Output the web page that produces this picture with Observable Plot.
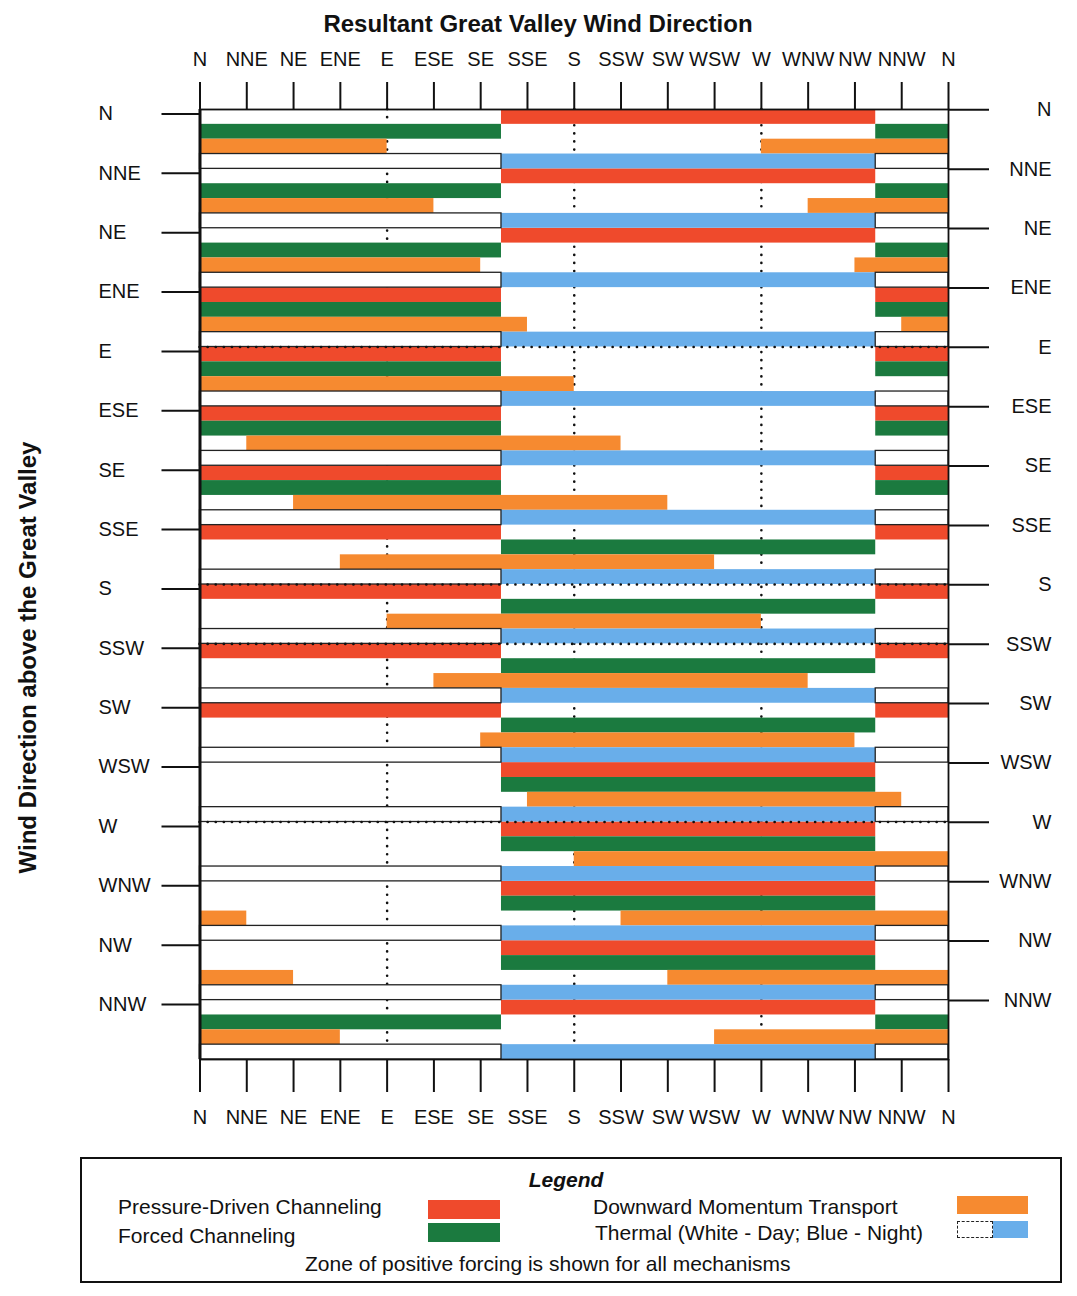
<!DOCTYPE html>
<html>
<head>
<meta charset="utf-8">
<script src="https://cdn.jsdelivr.net/npm/d3@7"></script>
<script src="https://cdn.jsdelivr.net/npm/@observablehq/plot@0.6"></script>
<style>
  body { margin: 0; background: #fff; font-family: "Liberation Sans", Arial, sans-serif; color: #111; }
  #page { position: relative; width: 1077px; height: 1296px; overflow: hidden; background: #fff; }
  #title { position: absolute; left: 0; width: 1076px; top: 10px; line-height: 28px; text-align: center; font-weight: bold; font-size: 24px; }
  #chart { position: absolute; left: 0; top: 40px; }
  #legendBox { position: absolute; left: 80px; top: 1157px; width: 982px; height: 126px; border: 2px solid #111; box-sizing: border-box; }
  .lt { position: absolute; font-size: 21px; white-space: nowrap; transform: translateY(-50%); line-height: 24px; }
  .sw { position: absolute; }
</style>
</head>
<body>
<div id="page">
  <div id="title">Resultant Great Valley Wind Direction</div>
  <div id="chart"></div>
  <div id="legendBox"></div>
  <div class="lt" style="left:0;width:1132px;text-align:center;top:1180px;font-weight:bold;font-style:italic;">Legend</div>
  <div class="lt" style="left:118px;top:1207px;">Pressure-Driven Channeling</div>
  <div class="lt" style="left:118px;top:1236px;">Forced Channeling</div>
  <div class="sw" id="swRed" style="left:428px;top:1200px;width:72px;height:19px;"></div>
  <div class="sw" id="swGreen" style="left:428px;top:1223px;width:72px;height:19px;"></div>
  <div class="lt" style="left:593px;top:1207px;">Downward Momentum Transport</div>
  <div class="lt" style="left:595px;top:1233px;">Thermal (White - Day; Blue - Night)</div>
  <div class="sw" id="swOrange" style="left:957px;top:1196px;width:71px;height:18px;"></div>
  <div class="sw" style="left:957px;top:1221px;width:36px;height:17px;border:1.5px dashed #222;box-sizing:border-box;background:#fff;"></div>
  <div class="sw" id="swBlue" style="left:993px;top:1221px;width:35px;height:17px;"></div>
  <div class="lt" style="left:305px;top:1264px;">Zone of positive forcing is shown for all mechanisms</div>
</div>
<script>
// Wind direction above the Great Valley (rows, top to bottom)
const aloftDirections = ["N","NNE","NE","ENE","E","ESE","SE","SSE","S","SSW","SW","WSW","W","WNW","NW","NNW"];
// Resultant Great Valley wind direction axis (degrees and labels)
const valleyTickDegrees = [0,22.5,45,67.5,90,112.5,135,157.5,180,202.5,225,247.5,270,292.5,315,337.5,360];
const valleyTickLabels = ["N","NNE","NE","ENE","E","ESE","SE","SSE","S","SSW","SW","WSW","W","WNW","NW","NNW","N"];

// Zones of positive forcing, [from, to] in degrees (clockwise, may wrap through N)
const pressureDriven = [[145,325],[145,325],[145,325],[325,145],[325,145],[325,145],[325,145],[325,145],
                        [325,145],[325,145],[325,145],[145,325],[145,325],[145,325],[145,325],[145,325]];
const forcedChanneling = [[325,145],[325,145],[325,145],[325,145],[325,145],[325,145],[325,145],[145,325],
                          [145,325],[145,325],[145,325],[145,325],[145,325],[145,325],[145,325],[325,145]];
const downwardMomentum = [[270,90],[292.5,112.5],[315,135],[337.5,157.5],[0,180],[22.5,202.5],[45,225],[67.5,247.5],
                          [90,270],[112.5,292.5],[135,315],[157.5,337.5],[180,360],[202.5,22.5],[225,45],[247.5,67.5]];
const thermalNight = [[145,325],[145,325],[145,325],[145,325],[145,325],[145,325],[145,325],[145,325],
                      [145,325],[145,325],[145,325],[145,325],[145,325],[145,325],[145,325],[145,325]];
const thermalDay = [[325,145],[325,145],[325,145],[325,145],[325,145],[325,145],[325,145],[325,145],
                    [325,145],[325,145],[325,145],[325,145],[325,145],[325,145],[325,145],[325,145]];

// Dotted reference lines
const dottedValleyDegrees = [90,180,270];
const dottedAloftRows = ["E","S","SSW","W"];

const colors = { red: "#ef4a2c", green: "#1b7a3f", orange: "#f68a30", blue: "#69aeea" };
document.getElementById("swRed").style.background = colors.red;
document.getElementById("swGreen").style.background = colors.green;
document.getElementById("swOrange").style.background = colors.orange;
document.getElementById("swBlue").style.background = colors.blue;

const BANDS = 4;
function segments(ranges, band) {
  const out = [];
  ranges.forEach(([a, b], i) => {
    const parts = a < b ? [[a, b]] : [[a, 360], [0, b]];
    for (const [p, q] of parts) {
      if (q > p) out.push({ x1: p, x2: q, y1: i * BANDS + band, y2: i * BANDS + band + 1 });
    }
  });
  return out;
}
const redSegs = segments(pressureDriven, 0);
const greenSegs = segments(forcedChanneling, 1);
const orangeSegs = segments(downwardMomentum, 2);
const nightSegs = segments(thermalNight, 3);
const daySegs = segments(thermalDay, 3);

const rowLabel = d => aloftDirections[Math.floor(d / BANDS + 1e-6)];
const leftTicks = aloftDirections.map((_, i) => i * BANDS + 0.3);
const rightTicks = aloftDirections.map((_, i) => i * BANDS + 0.02);
const dottedY = dottedAloftRows.map(r => aloftDirections.indexOf(r) * BANDS);
const xFmt = d => valleyTickLabels[Math.round(d / 22.5)];

const dotStyle = { stroke: "#111", strokeWidth: 2.6, strokeDasharray: "0.1 8", strokeLinecap: "round" };

const chart = Plot.plot({
  width: 1077,
  height: 1100,
  marginTop: 69,
  marginLeft: 199.5,
  marginRight: 129,
  marginBottom: 81,
  x: { domain: [0, 360] },
  y: { domain: [64, 0] },
  style: { fontFamily: "Liberation Sans, Arial, sans-serif", fontSize: "20px", color: "#111", background: "transparent" },
  marks: [
    Plot.ruleX(dottedValleyDegrees, dotStyle),
    Plot.rect(redSegs, { x1: "x1", x2: "x2", y1: "y1", y2: "y2", fill: colors.red }),
    Plot.rect(greenSegs, { x1: "x1", x2: "x2", y1: "y1", y2: "y2", fill: colors.green }),
    Plot.rect(orangeSegs, { x1: "x1", x2: "x2", y1: "y1", y2: "y2", fill: colors.orange }),
    Plot.rect(nightSegs, { x1: "x1", x2: "x2", y1: "y1", y2: "y2", fill: colors.blue }),
    Plot.rect(daySegs, { x1: "x1", x2: "x2", y1: "y1", y2: "y2", fill: "white", stroke: "#222", strokeWidth: 1.3 }),
    Plot.ruleY(dottedY, dotStyle),
    Plot.frame({ stroke: "#111", strokeWidth: 1.8 }),
    Plot.ruleX([0], { stroke: "#111", strokeWidth: 3 }),
    Plot.axisX({ anchor: "top", ticks: valleyTickDegrees, tickFormat: xFmt, tickSize: 28, tickPadding: 16, strokeWidth: 2, fontSize: 20, label: null }),
    Plot.axisX({ anchor: "bottom", ticks: valleyTickDegrees, tickFormat: xFmt, tickSize: 33, tickPadding: 17, strokeWidth: 2, fontSize: 20, label: null }),
    Plot.axisY({ anchor: "left", ticks: leftTicks, tickFormat: rowLabel, tickSize: 38, tickPadding: 63.5, textAnchor: "start", strokeWidth: 2, fontSize: 20, label: null }),
    Plot.axisY({ anchor: "right", ticks: rightTicks, tickFormat: rowLabel, tickSize: 40, tickPadding: 63, textAnchor: "end", strokeWidth: 2, fontSize: 20, label: null }),
    Plot.text(["Wind Direction above the Great Valley"], { frameAnchor: "left", rotate: -90, dx: -171.5, dy: 73, fontSize: 24, fontWeight: "bold", textAnchor: "middle", lineAnchor: "middle" })
  ]
});
document.getElementById("chart").appendChild(chart);
</script>
</body>
</html>
